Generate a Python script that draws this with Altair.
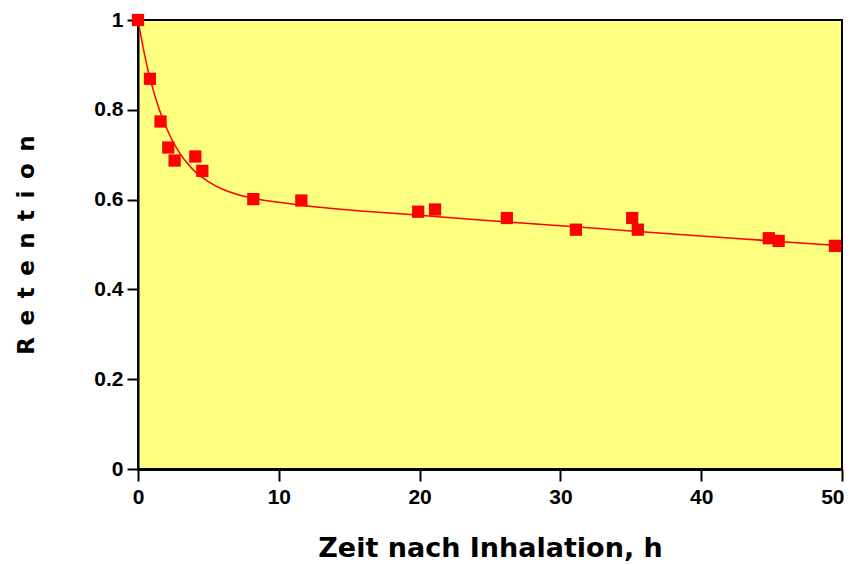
import altair as alt
import pandas as pd

# measured points
t_pts = [0.0, 0.85, 1.6, 2.15, 2.6, 4.07, 4.57, 8.19, 11.6, 19.9, 21.1, 26.2, 31.1, 35.1, 35.5, 44.8, 45.5, 49.5]
r_pts = [1.0, 0.869, 0.774, 0.716, 0.687, 0.696, 0.664, 0.601, 0.598, 0.573, 0.578, 0.559, 0.533, 0.559, 0.533, 0.514, 0.508, 0.497]

# fitted curve
t_fit = [0, 0.5, 1, 1.5, 2, 2.5, 3, 3.5, 4, 5, 6, 7, 8, 10, 12, 15, 20, 25, 30, 35, 40, 45, 50]
r_fit = [1.000, 0.918, 0.853, 0.802, 0.761, 0.728, 0.702, 0.681, 0.664, 0.640, 0.623, 0.612,
         0.604, 0.594, 0.586, 0.577, 0.565, 0.553, 0.542, 0.530, 0.519, 0.508, 0.497]

x_ticks = [0, 10, 20, 30, 40, 50]
y_ticks = [0, 0.2, 0.4, 0.6, 0.8, 1.0]

pts = pd.DataFrame({"t": t_pts, "r": r_pts})
fit = pd.DataFrame({"t": t_fit, "r": r_fit})

LFONT = "Liberation Sans"
TFONT = "DejaVu Sans"
EN = "\u2002"

x_enc = alt.X("t:Q", scale=alt.Scale(domain=[0, 50], nice=False, zero=False),
              axis=alt.Axis(values=x_ticks, title="Zeit nach Inhalation, h", grid=False,
                            labelFont=LFONT, labelFontSize=21, labelFontWeight="bold", labelColor="black",
                            labelAlign=alt.ExprRef(expr="datum.value == 50 ? 'right' : 'center'"),
                            labelOffset=alt.ExprRef(expr="datum.value == 50 ? 2 : 0"),
                            titleFont=TFONT, titleFontSize=27, titleFontWeight="bold", titleColor="black",
                            titleY=79, titleBaseline="middle",
                            domainColor="black", domainWidth=3, tickColor="black", tickWidth=2,
                            tickSize=12, labelPadding=5, labelFlush=False))
y_enc = alt.Y("r:Q", scale=alt.Scale(domain=[0, 1], nice=False, zero=False),
              axis=alt.Axis(values=y_ticks, format="~g", title=EN.join("Retention"), grid=False,
                            labelFont=LFONT, labelFontSize=21, labelFontWeight="bold", labelColor="black",
                            titleFont=TFONT, titleFontSize=23, titleFontWeight="bold", titleColor="black",
                            titleX=-112, titleBaseline="middle",
                            domainColor="black", domainWidth=2, tickColor="black", tickWidth=2,
                            tickSize=11, labelPadding=4))

line = alt.Chart(fit).mark_line(color="#FF0000", strokeWidth=1.5, interpolate="monotone", clip=False).encode(
    x=x_enc, y=y_enc)
squares = alt.Chart(pts).mark_square(color="#FF0000", size=150, opacity=1, filled=True, clip=False).encode(
    x="t:Q", y="r:Q")

chart = (line + squares).properties(
    width=704, height=449,
    autosize=alt.AutoSizeParams(type="none"),
    padding={"left": 130, "top": 12, "right": 3, "bottom": 92},
    background="white",
).configure_view(fill="#FFFF80", stroke="black", strokeWidth=2)

chart.save("out.html", embed_options={"renderer": "svg", "actions": False})
